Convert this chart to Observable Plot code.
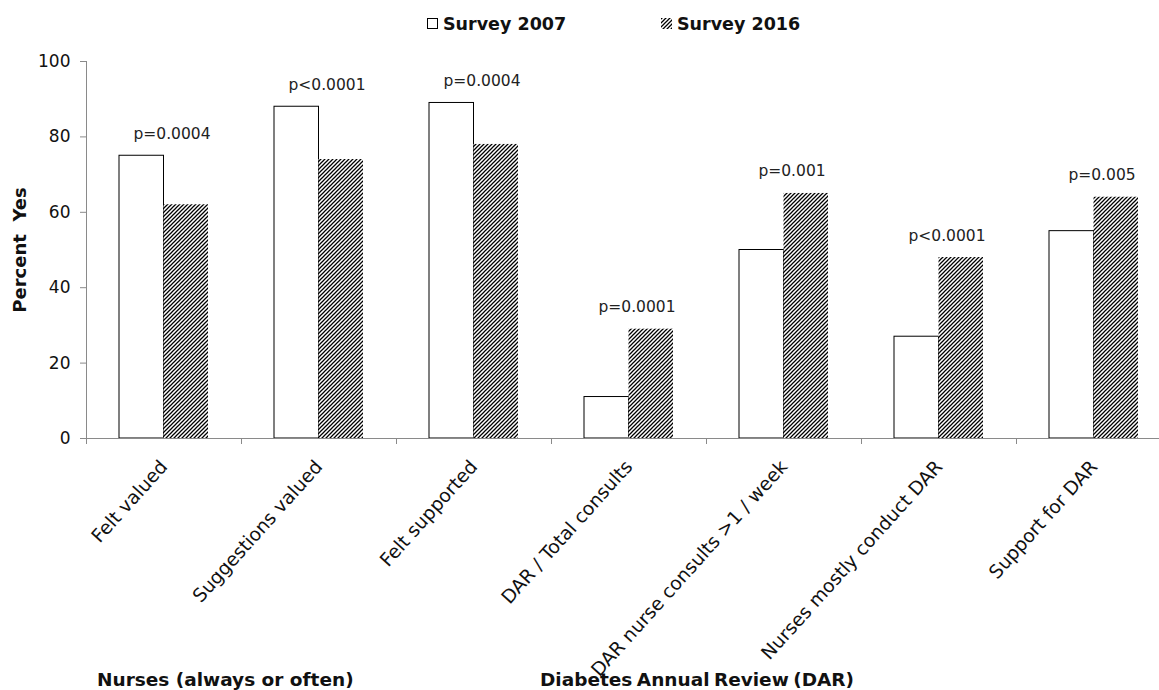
<!DOCTYPE html>
<html>
<head>
<meta charset="utf-8">
<script src="https://cdn.jsdelivr.net/npm/d3@7"></script>
<script src="https://cdn.jsdelivr.net/npm/@observablehq/plot@0.6"></script>
<style>
  html, body { margin: 0; padding: 0; background: #fff; overflow: hidden; }
  #chart { width: 1159px; height: 690px; }
</style>
</head>
<body>
<div id="chart"></div>
<script>
// Survey items and the share of nurses answering "yes"
const categories = [
  "Felt valued",
  "Suggestions valued",
  "Felt supported",
  "DAR / Total consults",
  "DAR nurse consults >1 / week",
  "Nurses mostly conduct DAR",
  "Support for DAR"
];
const survey2007 = [75, 88, 89, 11, 50, 27, 55];
const survey2016 = [62, 74, 78, 29, 65, 48, 64];
const pValues = ["p=0.0004", "p<0.0001", "p=0.0004", "p=0.0001", "p=0.001", "p<0.0001", "p=0.005"];
const seriesNames = ["Survey 2007", "Survey 2016"];
const groupNames = ["Nurses (always or often)", "Diabetes Annual Review (DAR)"];
const yTicks = [0, 20, 40, 60, 80, 100];
const yTitle = "Percent  Yes";

const rows2007 = categories.map((c, i) => ({category: c, series: seriesNames[0], value: survey2007[i]}));
const rows2016 = categories.map((c, i) => ({category: c, series: seriesNames[1], value: survey2016[i]}));
const pRows = categories.map((c, i) => ({category: c, p: pValues[i], top: Math.max(survey2007[i], survey2016[i])}));

const FONT = "'DejaVu Sans', Verdana, sans-serif";
const AXIS = "#8a8a8a";

const plot = Plot.plot({
  width: 1159,
  height: 690,
  marginTop: 61,
  marginBottom: 252,
  marginLeft: 86,
  marginRight: 0,
  style: {fontFamily: FONT, background: "#fff", color: "#1a1a1a"},
  x: {domain: categories, range: [86, 1171], padding: 0},
  y: {domain: [0, 100]},
  marks: [
    // 2007: open bars, left half of each group
    Plot.barY(rows2007, {x: "category", y: "value", fill: "#fff", stroke: "#000", strokeWidth: 1, insetLeft: 33, insetRight: 77.5}),
    // 2016: hatched bars, right half of each group
    Plot.barY(rows2016, {x: "category", y: "value", fill: "url(#hatch)", insetLeft: 77.5, insetRight: 33}),
    // significance labels above each pair
    Plot.text(pRows, {x: "category", y: "top", text: "p", dx: 8, dy: -22, fontSize: 15.5, fill: "#222"}),
    // value axis
    Plot.axisY({ticks: yTicks, tickSize: 6, tickPadding: 10, fontSize: 17, stroke: AXIS, fill: "#111", label: null}),
    Plot.frame({anchor: "left", stroke: AXIS}),
    Plot.text([yTitle], {frameAnchor: "left", textAnchor: "middle", rotate: -90, dx: -66, fontSize: 18, fontWeight: "bold", fill: "#111"}),
    // category axis
    Plot.ruleY([0], {stroke: AXIS}),
    Plot.ruleX(categories, {x: d => d, y1: 0, y2: 0, insetBottom: -6, dx: -77.5, stroke: AXIS}),
    Plot.axisX({tickSize: 0, tickRotate: -48, tickPadding: 25, fontSize: 18.7, fill: "#111", label: null})
  ]
});

const svg = d3.select(plot);
svg.selectAll("text").filter(function () { return this.textContent === yTitle; }).style("white-space", "pre");

// diagonal hatch used by the 2016 bars and their legend swatch
const defs = svg.insert("defs", ":first-child");
const pat = defs.append("pattern")
  .attr("id", "hatch")
  .attr("patternUnits", "userSpaceOnUse")
  .attr("width", 4).attr("height", 4);
pat.append("rect").attr("width", 4).attr("height", 4).attr("fill", "#fff");
pat.append("path")
  .attr("d", "M-1,1 L1,-1 M0,4 L4,0 M3,5 L5,3")
  .attr("stroke", "#000").attr("stroke-width", 1.25);

// legend
const legend = svg.append("g")
  .attr("font-family", FONT).attr("font-weight", "bold").attr("font-size", 17.5)
  .attr("fill", "#111").attr("text-anchor", "start");
legend.append("rect").attr("x", 427.5).attr("y", 18.5).attr("width", 10).attr("height", 10).attr("fill", "#fff").attr("stroke", "#000");
legend.append("text").attr("x", 443).attr("y", 30).text(seriesNames[0]);
legend.append("rect").attr("x", 661).attr("y", 18).attr("width", 11).attr("height", 11).attr("fill", "url(#hatch)");
legend.append("text").attr("x", 677).attr("y", 30).text(seriesNames[1]);

// group captions under the category labels
const groups = svg.append("g")
  .attr("font-family", FONT).attr("font-weight", "bold").attr("font-size", 18.5)
  .attr("fill", "#111").attr("text-anchor", "start");
groups.append("text").attr("x", 97).attr("y", 686).text(groupNames[0]);
groups.append("text").attr("x", 540).attr("y", 686).attr("word-spacing", "-2").text(groupNames[1]);

document.getElementById("chart").appendChild(plot);
</script>
</body>
</html>
